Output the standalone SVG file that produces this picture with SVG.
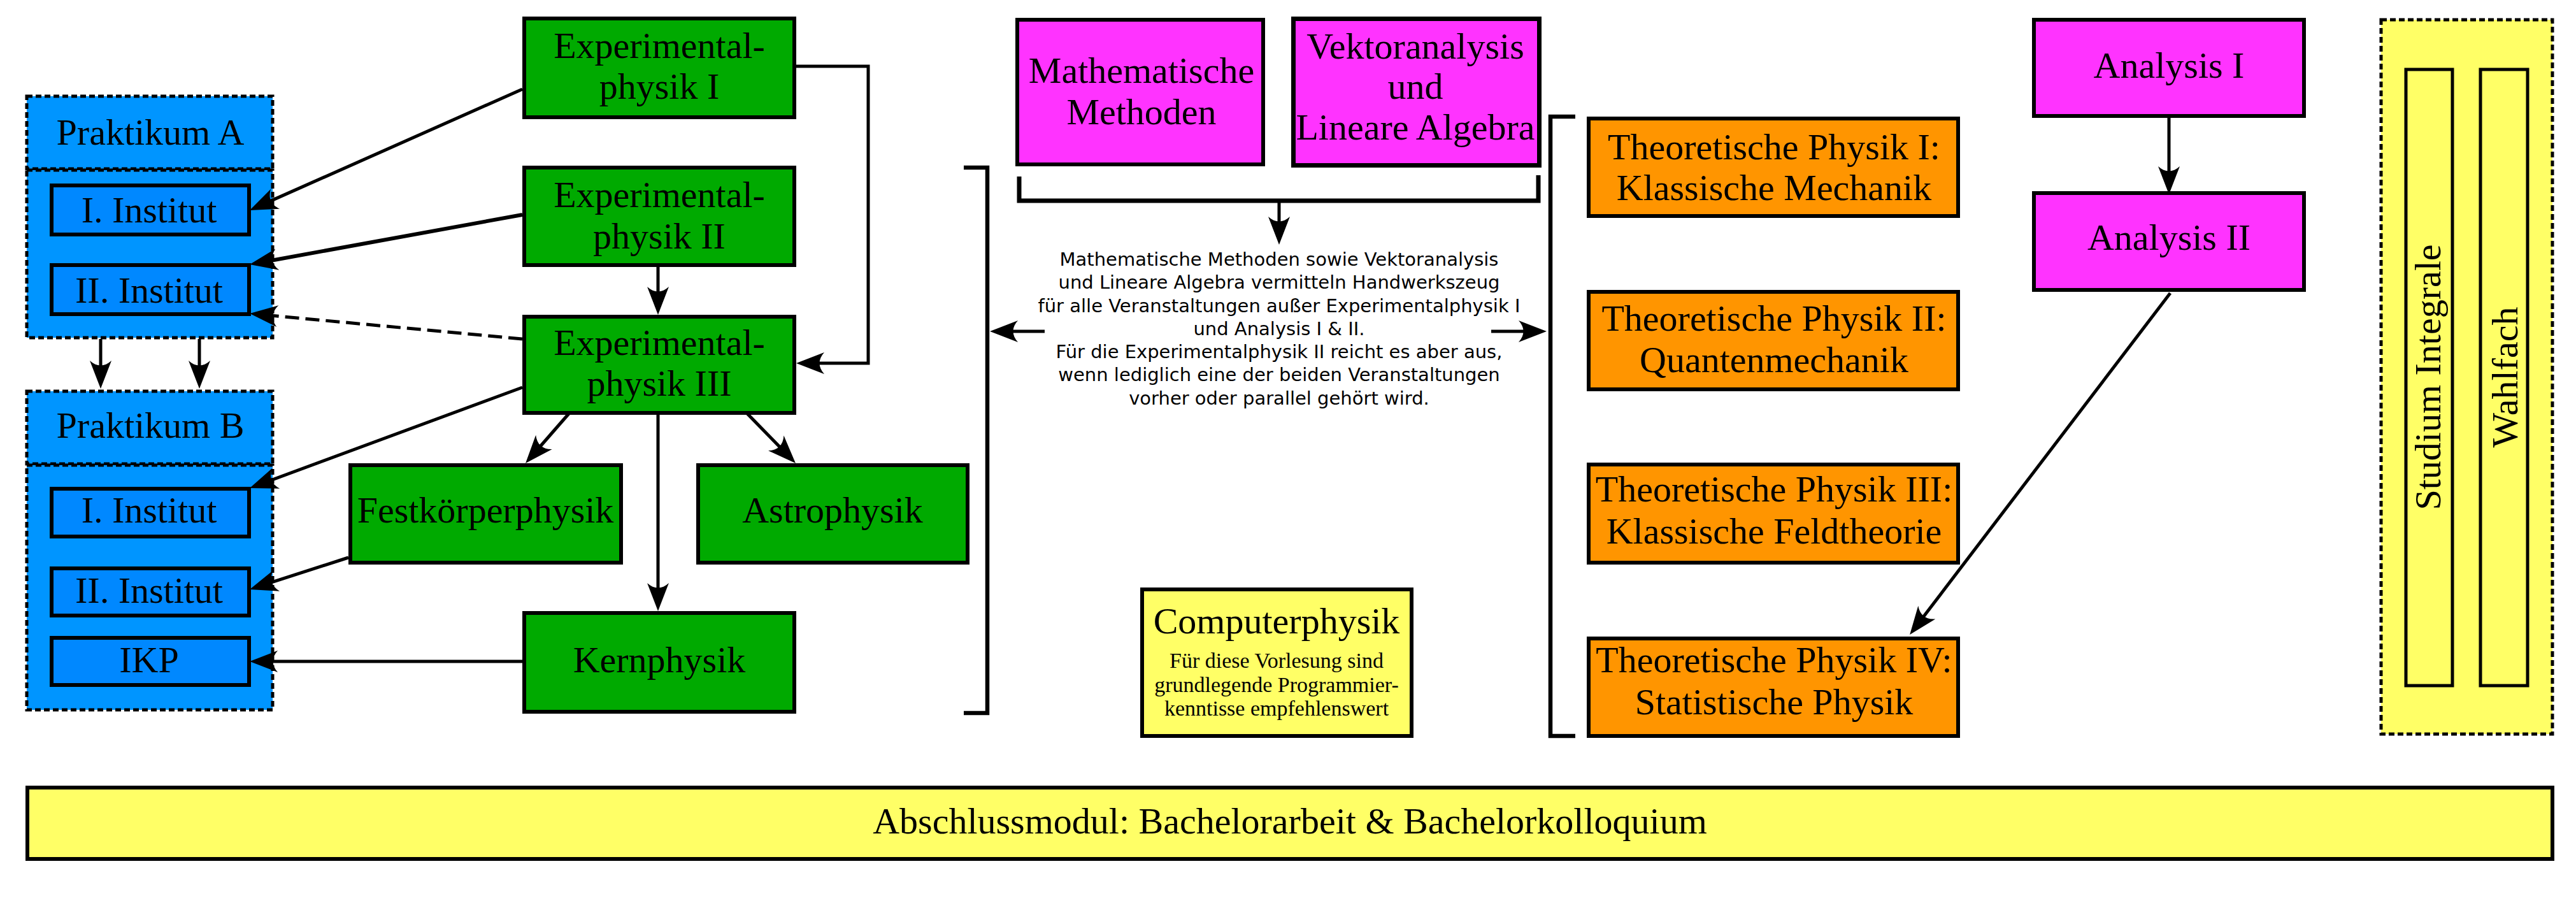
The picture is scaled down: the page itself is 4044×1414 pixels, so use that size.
<svg xmlns="http://www.w3.org/2000/svg" width="4044" height="1414" viewBox="0 0 4044 1414">
<defs>
<style>
.box{stroke:#000;stroke-width:6}
.green{fill:#00aa00}
.mag{fill:#ff33ff}
.org{fill:#ff9500}
.yel{fill:#ffff66}
.blue{fill:#0095ff}
.iblue{fill:#0088ff}
.dash{stroke:#000;stroke-width:5;stroke-dasharray:9,5}
.t{font-family:"Liberation Serif","Times New Roman",serif;font-size:58px;fill:#000;text-anchor:middle}
.s{font-family:"Liberation Serif","Times New Roman",serif;font-size:34px;fill:#000;text-anchor:middle}
.note{font-family:"DejaVu Sans","Liberation Sans",sans-serif;font-size:29px;fill:#000;text-anchor:middle}
</style>
<marker id="ah" markerUnits="userSpaceOnUse" markerWidth="52" markerHeight="40" viewBox="-40 -20 52 40" refX="0" refY="0" orient="auto">
<path d="M10,0 L-34,-17 C-24,-6 -24,6 -34,17 Z" fill="#000" stroke="none"/>
</marker>
</defs>
<rect width="4044" height="1414" fill="#fff"/>

<g id="praktikumA">
<rect class="blue dash" x="42" y="151" width="386" height="114"/>
<rect class="blue dash" x="42" y="267" width="386" height="263"/>
<text class="t" x="236" y="227">Praktikum A</text>
</g>
<g id="instA1"><rect class="box iblue" x="81" y="291" width="310" height="77"/><text class="t" x="234" y="349">I. Institut</text></g>
<g id="instA2"><rect class="box iblue" x="81" y="416" width="310" height="77"/><text class="t" x="234" y="475">II. Institut</text></g>

<g id="praktikumB">
<rect class="blue dash" x="42" y="614" width="386" height="114"/>
<rect class="blue dash" x="42" y="730" width="386" height="384"/>
<text class="t" x="236" y="687">Praktikum B</text>
</g>
<g id="instB1"><rect class="box iblue" x="81" y="767" width="310" height="75"/><text class="t" x="234" y="820">I. Institut</text></g>
<g id="instB2"><rect class="box iblue" x="81" y="892" width="310" height="74"/><text class="t" x="234" y="946">II. Institut</text></g>
<g id="ikp"><rect class="box iblue" x="81" y="1001" width="310" height="74"/><text class="t" x="234" y="1055">IKP</text></g>

<g id="exp1"><rect class="box green" x="823" y="29" width="424" height="155"/><text class="t" x="1035" y="91">Experimental-</text><text class="t" x="1035" y="155">physik I</text></g>
<g id="exp2"><rect class="box green" x="823" y="263" width="424" height="153"/><text class="t" x="1035" y="325">Experimental-</text><text class="t" x="1035" y="390">physik II</text></g>
<g id="exp3"><rect class="box green" x="823" y="497" width="424" height="151"/><text class="t" x="1035" y="557">Experimental-</text><text class="t" x="1035" y="621">physik III</text></g>
<g id="festkoerper"><rect class="box green" x="550" y="730" width="425" height="153"/><text class="t" x="762" y="820">Festkörperphysik</text></g>
<g id="astro"><rect class="box green" x="1096" y="730" width="423" height="153"/><text class="t" x="1307" y="820">Astrophysik</text></g>
<g id="kern"><rect class="box green" x="823" y="962" width="424" height="155"/><text class="t" x="1035" y="1055">Kernphysik</text></g>

<g id="mathmeth"><rect class="box mag" x="1597" y="31" width="386" height="227"/><text class="t" x="1792" y="130">Mathematische</text><text class="t" x="1792" y="195">Methoden</text></g>
<g id="vektor"><rect class="box mag" x="2030.5" y="29.5" width="386" height="230" style="stroke-width:7"/><text class="t" x="2222" y="92">Vektoranalysis</text><text class="t" x="2222" y="155">und</text><text class="t" x="2222" y="219">Lineare Algebra</text></g>

<g id="note">
<text class="note" x="2008" y="416.5">Mathematische Methoden sowie Vektoranalysis</text>
<text class="note" x="2008" y="453">und Lineare Algebra vermitteln Handwerkszeug</text>
<text class="note" x="2008" y="489.5">für alle Veranstaltungen außer Experimentalphysik I</text>
<text class="note" x="2008" y="526">und Analysis I &amp; II.</text>
<text class="note" x="2008" y="562">Für die Experimentalphysik II reicht es aber aus,</text>
<text class="note" x="2008" y="598">wenn lediglich eine der beiden Veranstaltungen</text>
<text class="note" x="2008" y="634.5">vorher oder parallel gehört wird.</text>
</g>

<g id="computerphysik"><rect class="box yel" x="1793" y="925" width="423" height="230"/><text class="t" x="2004" y="994">Computerphysik</text><text class="s" x="2004" y="1048">Für diese Vorlesung sind</text><text class="s" x="2004" y="1086">grundlegende Programmier-</text><text class="s" x="2004" y="1123">kenntisse empfehlenswert</text></g>

<g id="theo1"><rect class="box org" x="2494" y="186" width="580" height="153"/><text class="t" x="2785" y="250">Theoretische Physik I:</text><text class="t" x="2785" y="314">Klassische Mechanik</text></g>
<g id="theo2"><rect class="box org" x="2494" y="458" width="580" height="153"/><text class="t" x="2785" y="519">Theoretische Physik II:</text><text class="t" x="2785" y="584">Quantenmechanik</text></g>
<g id="theo3"><rect class="box org" x="2494" y="729" width="580" height="154"/><text class="t" x="2785" y="787">Theoretische Physik III:</text><text class="t" x="2785" y="853">Klassische Feldtheorie</text></g>
<g id="theo4"><rect class="box org" x="2494" y="1002" width="580" height="153"/><text class="t" x="2785" y="1055">Theoretische Physik IV:</text><text class="t" x="2785" y="1121">Statistische Physik</text></g>

<g id="analysis1"><rect class="box mag" x="3193" y="31" width="424" height="151"/><text class="t" x="3405" y="122">Analysis I</text></g>
<g id="analysis2"><rect class="box mag" x="3193" y="303" width="424" height="152"/><text class="t" x="3405" y="392">Analysis II</text></g>

<g id="wahlbereich">
<rect class="yel dash" x="3738" y="31" width="269" height="1121"/>
<rect class="yel" x="3777" y="109" width="73" height="967" stroke="#000" stroke-width="5"/>
<rect class="yel" x="3894" y="109" width="74" height="967" stroke="#000" stroke-width="5"/>
<text class="t" transform="translate(3831,592) rotate(-90)" x="0" y="0">Studium Integrale</text>
<text class="t" transform="translate(3952,592) rotate(-90)" x="0" y="0">Wahlfach</text>
</g>

<g id="abschluss"><rect class="box yel" x="43" y="1236" width="3964" height="112"/><text class="t" x="2025" y="1308">Abschlussmodul: Bachelorarbeit &amp; Bachelorkolloquium</text></g>

<g id="connectors" fill="none" stroke="#000" stroke-width="5">
<line x1="820" y1="140" x2="401.1" y2="325.9" marker-end="url(#ah)"/>
<line x1="820" y1="337" x2="401.8" y2="413.2" stroke-width="6" marker-end="url(#ah)"/>
<line x1="820" y1="532" x2="402" y2="492.9" stroke-dasharray="22,10" marker-end="url(#ah)"/>
<line x1="1033" y1="419" x2="1033" y2="484" marker-end="url(#ah)"/>
<polyline points="1250,104 1363,104 1363,570 1260,570" marker-end="url(#ah)"/>
<line x1="158" y1="532" x2="158" y2="600" marker-end="url(#ah)"/>
<line x1="313" y1="532" x2="313" y2="600" marker-end="url(#ah)"/>
<line x1="820" y1="608" x2="401.4" y2="762.5" marker-end="url(#ah)"/>
<line x1="894" y1="648" x2="831.6" y2="719.5" marker-end="url(#ah)"/>
<line x1="1172" y1="648" x2="1242" y2="719.8" marker-end="url(#ah)"/>
<line x1="1033" y1="651" x2="1033" y2="949" marker-end="url(#ah)"/>
<line x1="547" y1="875" x2="401.5" y2="921.9" marker-end="url(#ah)"/>
<line x1="820" y1="1038" x2="402" y2="1038" marker-end="url(#ah)"/>
<path d="M1513,263 H1550 V1119 H1513" stroke-width="6.5"/>
<path d="M2473,183 H2434 V1155 H2473" stroke-width="6.5"/>
<path d="M1600,277 V315 H2415 V275" stroke-width="7"/>
<line x1="2008" y1="318" x2="2008" y2="374" marker-end="url(#ah)"/>
<line x1="1640" y1="520" x2="1564" y2="520" marker-end="url(#ah)"/>
<line x1="2341" y1="520" x2="2418" y2="520" marker-end="url(#ah)"/>
<line x1="3405" y1="185" x2="3405" y2="295" marker-end="url(#ah)"/>
<line x1="3407" y1="460" x2="3004.2" y2="988.1" marker-end="url(#ah)"/>
</g>
</svg>
